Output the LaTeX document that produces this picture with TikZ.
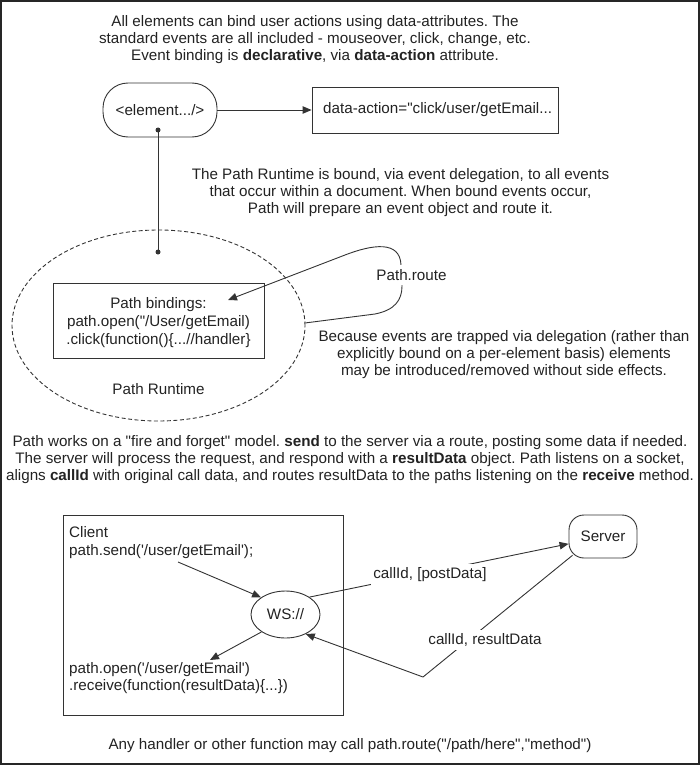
\documentclass[tikz,border=0pt]{standalone}
\usepackage{fontspec}
\newfontfamily\lsans{Liberation Sans}
\usetikzlibrary{arrows.meta,shapes.geometric}
\definecolor{linec}{HTML}{333333}
\definecolor{txtc}{HTML}{222222}
\frenchspacing
\begin{document}
\begin{tikzpicture}[x=1pt,y=-1pt,
  txt/.style={font=\lsans\fontsize{15.2}{17}\selectfont, text=txtc, inner sep=0pt, align=center},
  ln/.style={draw=linec, line width=0.9pt},
  arr/.style={ln, -{Triangle[length=9pt,width=7.5pt]}},
  dotc/.style={circle, fill=linec, inner sep=0pt, minimum size=5pt},
  lbl/.style={txt, fill=white, inner xsep=2pt, inner ysep=4pt},
  boxs/.style={ln, rectangle, inner sep=0pt}]
\useasboundingbox (0,0) rectangle (700,765);
\draw[draw=black!85, line width=2pt] (1,1) rectangle (699,764);

% top text
\node[txt] (t1) at (315,40) {All elements can bind user actions using data-attributes. The\\standard events are all included - mouseover, click, change, etc.\\Event binding is \textbf{declarative}, via \textbf{data-action} attribute.};

% element and data-action
\node[ln, txt, rounded corners=25pt, minimum width=114pt, minimum height=54pt] (elem) at (160,110) {<element.../>};
\node[boxs, minimum width=246pt, minimum height=46pt] (data) at (435,110) {};
\node[txt, anchor=west] (datatxt) at (323,110) {data-action="click/user/getEmail...};
\draw[arr] (elem) -- (data);

% dots line
\coordinate (d1) at (158,130);
\coordinate (d2) at (158,252);
\draw[ln] (d1) -- (d2);
\node[dotc] at (d1) {};
\node[dotc] at (d2) {};

% second text
\node[txt] (t2) at (400.5,193) {The Path Runtime is bound, via event delegation, to all events\\that occur within a document. When bound events occur,\\Path will prepare an event object and route it.};

% runtime ellipse
\node[ln, dashed, dash pattern=on 4pt off 2.5pt, ellipse, inner sep=0pt, minimum width=293pt, minimum height=191pt] (rt) at (158.5,325.5) {};
\node[boxs, minimum width=211pt, minimum height=75pt] (bind) at (158.5,320.5) {};
\node[txt, font=\lsans\fontsize{15.2}{18}\selectfont] (bindtxt) at (158.5,323) {Path bindings:\\path.open("/User/getEmail)\\.click(function()\{...//handler\}};
\node[txt] (rtlabel) at (158.5,389) {Path Runtime};

% Path.route loop
\coordinate (routeTip) at (228,300);
\draw[arr] (rt.1.5) -- (375,314) .. controls (395,310) and (402,300) .. (402,286) -- (401,265) .. controls (400,240) and (372,244.6) .. (345,255) -- (routeTip);
\node[lbl] (routelbl) at (411.5,275) {Path.route};

% because text
\node[txt] (t3) at (504,355) {Because events are trapped via delegation (rather than\\explicitly bound on a per-element basis) elements\\may be introduced/removed without side effects.};

% path works text
\node[txt] (t4) at (350,460) {Path works on a "fire and forget" model. \textbf{send} to the server via a route, posting some data if needed.\\The server will process the request, and respond with a \textbf{resultData} object. Path listens on a socket,\\aligns \textbf{callId} with original call data, and routes resultData to the paths listening on the \textbf{receive} method.};

% client box
\node[boxs, minimum width=280pt, minimum height=200pt] (client) at (203,615) {};
\node[txt, anchor=west] (clientlbl) at (69,532) {Client};
\node[txt, anchor=west] (send) at (69,552) {path.send('/user/getEmail');};
\node[txt, anchor=west, align=left] (recv) at (69,678.5) {path.open('/user/getEmail')\\.receive(function(resultData)\{...\})};

\node[ln, txt, ellipse, minimum width=69pt, minimum height=47pt] (ws) at (285.5,614.5) {WS://};
\node[ln, txt, rounded corners=15pt, minimum width=68pt, minimum height=43pt] (server) at (603,536.5) {Server};

\coordinate (sendOut) at (178,562);
\coordinate (openIn) at (210,660);
\coordinate (retCorner) at (423,677);
\draw[arr] (sendOut) -- (ws.145);
\draw[arr] (ws.216) -- (openIn);
\draw[arr] (ws.36) -- (server.192);
\draw[arr] ([shift={(4,-2.75)}]server.212) -- (retCorner) -- (ws.-44);
\node[lbl] (postlbl) at (430,575) {callId, [postData]};
\node[lbl] (reslbl) at (485,640) {callId, resultData};

% bottom text
\node[txt] (t5) at (350,746) {Any handler or other function may call path.route("/path/here","method")};
\end{tikzpicture}
\end{document}
